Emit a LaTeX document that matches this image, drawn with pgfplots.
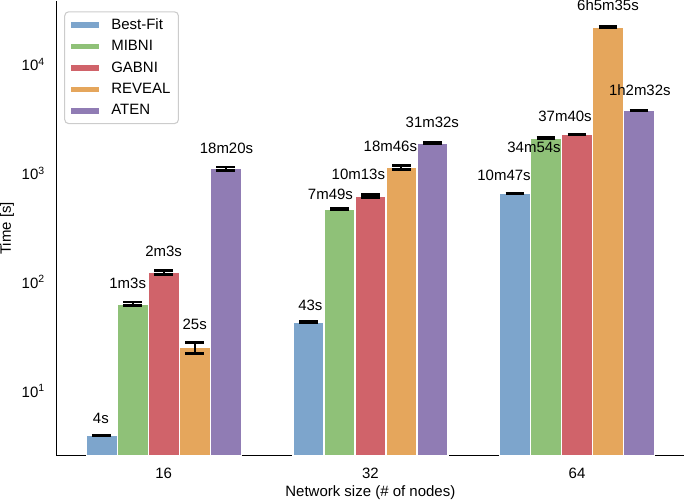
\documentclass[border=0pt]{standalone}
\usepackage{fontspec}
\setmainfont{Liberation Sans}
\usepackage{pgfplots}
\usepackage{pgfplotstable}
\pgfplotsset{compat=1.18}

\definecolor{cblue}{RGB}{125,165,204}
\definecolor{cgreen}{RGB}{143,193,120}
\definecolor{cred}{RGB}{208,99,106}
\definecolor{corange}{RGB}{229,166,92}
\definecolor{cpurple}{RGB}{144,124,180}

% x = group index (0: 16 nodes, 1: 32, 2: 64), val and err in seconds
\pgfplotstableread{
x val err
0 3.9 0.05
1 43 0.4
2 647 6
}\bestfit
\pgfplotstableread{
x val err
0 63 2.5
1 469 5
2 2094 15
}\mibni
\pgfplotstableread{
x val err
0 123 5
1 613 20
2 2260 20
}\gabni
\pgfplotstableread{
x val err
0 25 2.8
1 1126 40
2 21935 100
}\reveal
\pgfplotstableread{
x val err
0 1100 40
1 1892 12
2 3752 25
}\aten

% label positions (bottom of the text)
\pgfplotstableread{
x y lab
-0.304 4.98 4s
-0.174 86.3 1m3s
0.000 169.4 2m3s
0.150 36.3 25s
0.304 1493 18m20s
0.710 54 43s
0.807 565 7m49s
0.942 863 10m13s
1.097 1561 18m46s
1.300 2588 31m32s
1.647 845 10m47s
1.792 1525 34m54s
1.942 2938 37m40s
2.150 30600 6h5m35s
2.304 5080 1h2m32s
}\labels

\pgfplotsset{
  bars/.style={ybar, bar width=0.15, bar shift=0, draw=white, line width=1pt,
    error bars/y dir=both, error bars/y explicit,
    error bars/error bar style={black, line width=1.5pt},
    error bars/error mark options={black, line width=2pt, mark size=7pt, rotate=90}},
}

\begin{document}
\begin{tikzpicture}[font=\fontsize{11.25}{13.5}\selectfont]
\begin{axis}[
  scale only axis, width=471.75pt, height=341.25pt,
  ymode=log, log origin=infty,
  xmin=-0.52, xmax=2.52, ymin=2.54, ymax=37800,
  axis x line*=bottom, axis y line*=left,
  axis line style={line width=0.8pt, -},
  xtick={0,1,2}, xticklabels={16,32,64},
  ytick={10,100,1000,10000},
  yticklabels={10\textsuperscript{1},10\textsuperscript{2},10\textsuperscript{3},10\textsuperscript{4}},
  major tick length=0pt, minor tick length=0pt,
  xticklabel style={yshift=-6pt},
  yticklabel style={xshift=-5pt},
  xlabel={Network size (\# of nodes)},
  ylabel={Time [s]},
  xlabel style={at={(axis description cs:0.5,0)}, anchor=north, inner sep=0pt, yshift=-22.5pt},
  ylabel style={at={(axis description cs:-0.0668,0.5)}, anchor=south, inner sep=0pt},
  legend style={at={(0.0127,0.978)}, anchor=north west, draw=black!20,
    rounded corners=3pt, line width=0.8pt, row sep=2.8pt, column sep=6pt,
    inner xsep=4pt, inner ysep=3pt},
  legend cell align=left,
  legend image code/.code={\fill[#1, sharp corners] (0pt,-2.6pt) rectangle (22pt,2.6pt);},
]
\addplot[bars, fill=cblue] table[x expr=\thisrow{x}-0.30, y=val, y error=err]{\bestfit};
\addplot[bars, fill=cgreen] table[x expr=\thisrow{x}-0.15, y=val, y error=err]{\mibni};
\addplot[bars, fill=cred] table[x expr=\thisrow{x}, y=val, y error=err]{\gabni};
\addplot[bars, fill=corange] table[x expr=\thisrow{x}+0.15, y=val, y error=err]{\reveal};
\addplot[bars, fill=cpurple] table[x expr=\thisrow{x}+0.30, y=val, y error=err]{\aten};
\legend{Best-Fit, MIBNI, GABNI, REVEAL, ATEN}
\addplot[draw=none, forget plot, nodes near coords, point meta=explicit symbolic,
  nodes near coords style={anchor=south, inner sep=0pt, black}]
  table[x=x, y=y, meta=lab]{\labels};
\end{axis}
\end{tikzpicture}
\end{document}
